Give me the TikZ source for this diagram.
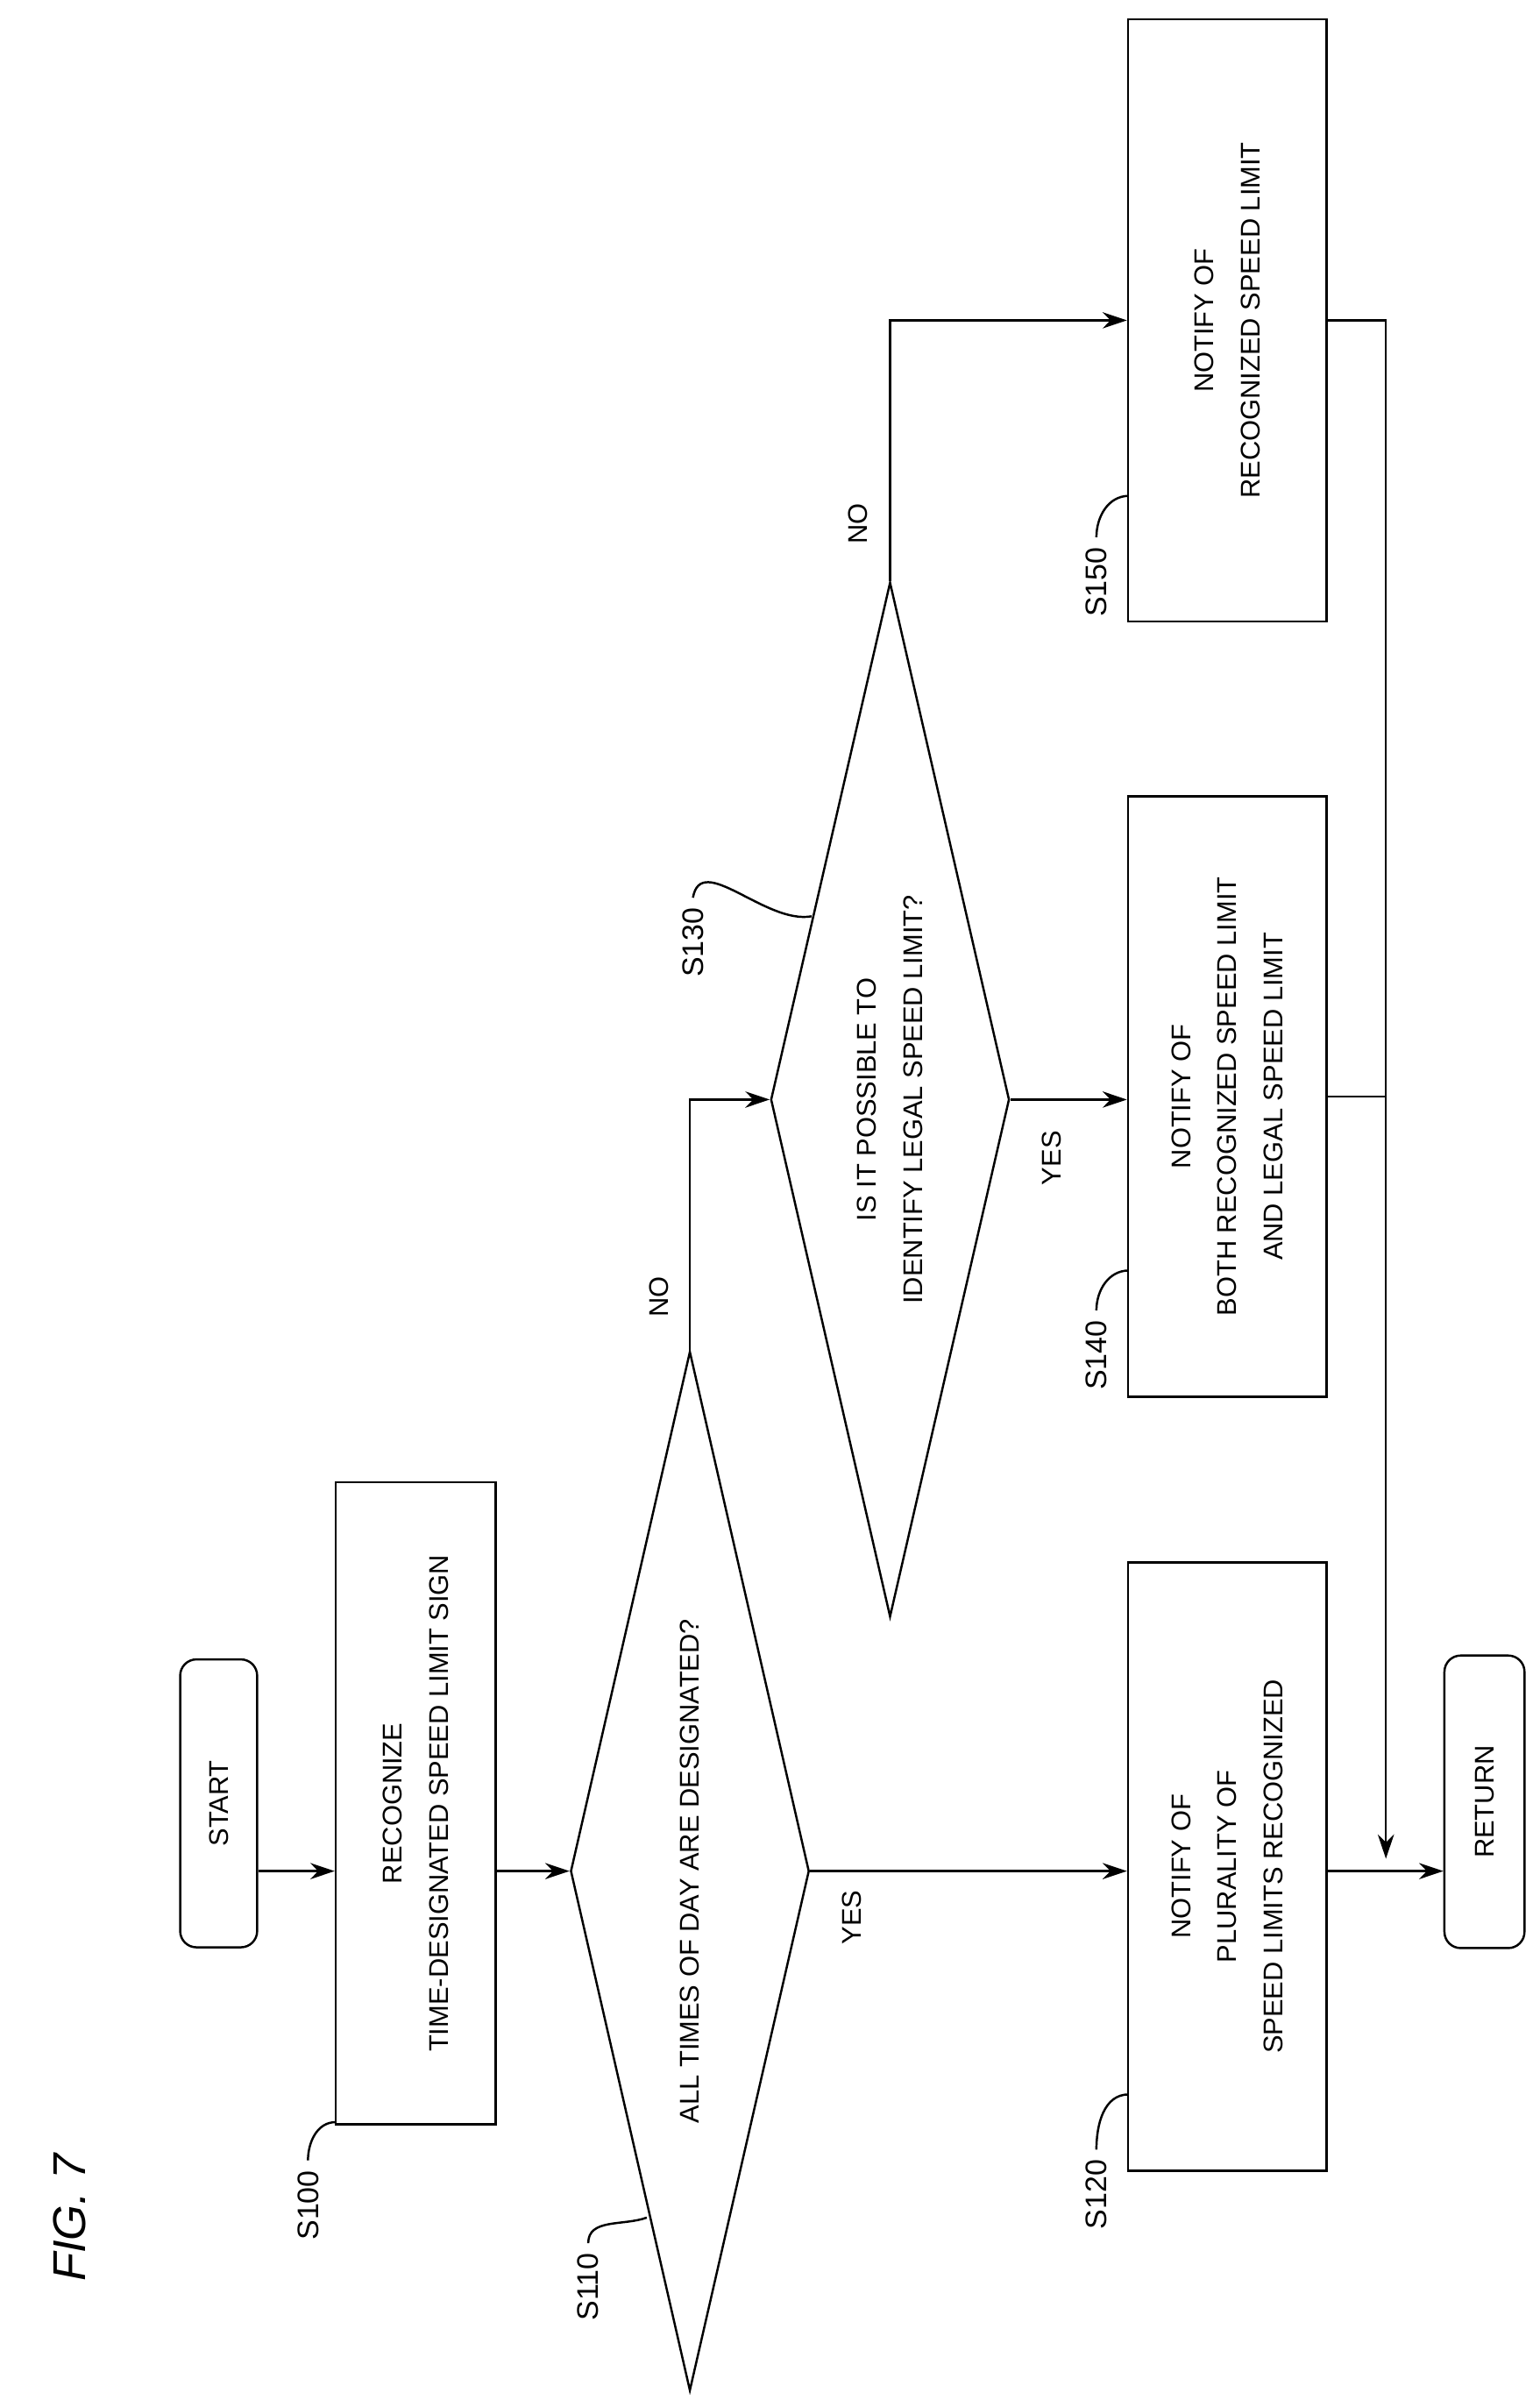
\documentclass[tikz,border=0pt]{standalone}
\usepackage{fontspec}
\setmainfont{Liberation Sans}
\usetikzlibrary{shapes.geometric,arrows.meta}
\begin{document}
\begin{tikzpicture}
            [x=0.02cm, y=-0.02cm,
            line width=0.8pt,
            every node/.style={font=\fontsize{10}{17}\selectfont, align=center},
            box/.style={draw, rotate=90, inner sep=2pt},
            term/.style={box, rounded corners=6pt},
            test/.style={draw, diamond, aspect=4.35, rotate=90, inner sep=0pt},
            tag/.style={rotate=90, font=\fontsize{11}{13}\selectfont},
            arr/.style={-{Stealth[length=9pt,width=6pt]}},
            ]
            \useasboundingbox (0,0) rectangle (1000,1563);
            \node[rotate=90, font=\fontsize{17}{20}\selectfont\itshape] (fig) at (45,1440) {FIG. 7};

            % steps
            \node[term, minimum width=3.74cm, minimum height=1.0cm] (start) at (142,1171) {START};
            \node[box, minimum width=8.34cm, minimum height=2.08cm] (s100) at (270,1171) {RECOGNIZE\\TIME-DESIGNATED SPEED LIMIT SIGN};
            \node[test, minimum width=13.5cm, minimum height=3.1cm] (s110) at (448,1215) {ALL TIMES OF DAY ARE DESIGNATED?};
            \node[box, minimum width=7.9cm, minimum height=2.58cm] (s120) at (797,1212) {NOTIFY OF\\PLURALITY OF\\SPEED LIMITS RECOGNIZED};
            \node[term, minimum width=3.8cm, minimum height=1.04cm] (ret) at (964,1170) {RETURN};
            \node[test, minimum width=13.44cm, minimum height=3.1cm] (s130) at (578,714) {IS IT POSSIBLE TO\\IDENTIFY LEGAL SPEED LIMIT?};
            \node[box, minimum width=7.8cm, minimum height=2.58cm] (s140) at (797,712) {NOTIFY OF\\BOTH RECOGNIZED SPEED LIMIT\\AND LEGAL SPEED LIMIT};
            \node[box, minimum width=7.82cm, minimum height=2.58cm] (s150) at (797,208) {NOTIFY OF\\RECOGNIZED SPEED LIMIT};

            % step labels
            \node[tag] (l100) at (200,1432) {S100};
            \node[tag] (l110) at (382,1485) {S110};
            \node[tag] (l120) at (712,1425) {S120};
            \node[tag] (l130) at (450,612) {S130};
            \node[tag] (l140) at (712,880) {S140};
            \node[tag] (l150) at (712,378) {S150};
            \draw (l100.east) to[out=90,in=180] (218,1378);
            \draw (l110.east) to[out=90,in=200] (420,1440);
            \draw (l120.east) to[out=90,in=180] (733,1360);
            \draw (l130.east) to[out=80,in=190] (527,595);
            \draw (l140.east) to[out=90,in=180] (733,825);
            \draw (l150.east) to[out=90,in=180] (733,322);

            % answers
            \node[rotate=90] (yes1) at (553,1245) {YES};
            \node[rotate=90] (no1) at (428,842) {NO};
            \node[rotate=90] (yes2) at (683,752) {YES};
            \node[rotate=90] (no2) at (557,340) {NO};

            % links
            \coordinate (j1) at (900,1207);
            \draw[arr] (start.south |- s110) -- (s100.north |- s110);
            \draw[arr] (s100.south |- s110) -- (s110.north);
            \draw[arr] (s110.south) -- (s120.north |- s110);
            \draw[arr] (s120.south |- s110) -- (ret.north |- s110);
            \draw[arr] (s110.east) |- (s130.north);
            \draw[arr] (s130.south) -- (s140.north |- s130);
            \draw[arr] (s130.east) |- (s150.north);
            \draw[arr] (s150.south) -| (j1);
            \draw (s140.south) -- (s140.south -| j1);
\end{tikzpicture}
\end{document}
